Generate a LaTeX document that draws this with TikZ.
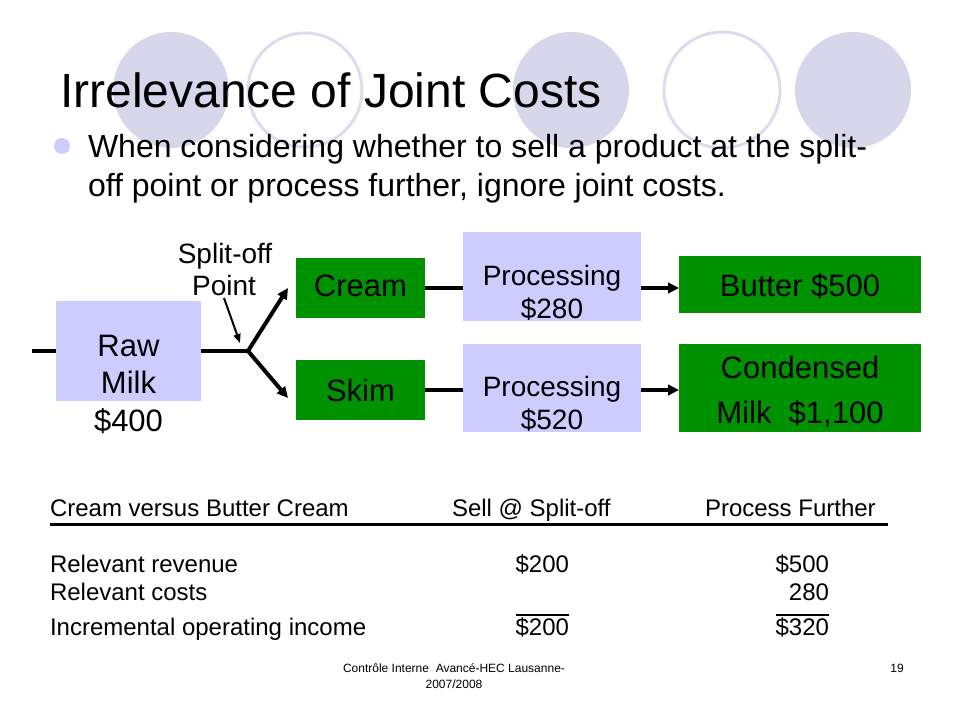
\documentclass[tikz,border=0pt]{standalone}
\usepackage{fontspec}
\setmainfont{Liberation Sans}
\usetikzlibrary{arrows.meta}
\definecolor{lav}{RGB}{204,204,255}
\definecolor{circfill}{RGB}{215,215,235}
\definecolor{circline}{RGB}{220,220,238}
\definecolor{grn}{RGB}{0,146,0}
\newcommand{\myfs}[1]{\fontsize{#1}{#1}\selectfont}
\begin{document}
\begin{tikzpicture}[x=1pt,y=-1pt,
  txt/.style={inner sep=0pt, outer sep=0pt},
  lavbox/.style={draw=none, fill=lav, inner sep=0pt, outer sep=0pt},
  grnbox/.style={draw=none, fill=grn, inner sep=0pt, outer sep=0pt},
  conn/.style={line width=4pt},
  arr/.style={line width=4pt, -{Triangle[length=11pt,width=10.5pt]}},
  thinarr/.style={line width=2pt, -{Triangle[length=9pt,width=7pt]}},
  decoring/.style={draw=circline, line width=3pt, fill=none},
]
\useasboundingbox[fill=white] (0,0) rectangle (960,720);

% decorative circles
\fill[circfill] (171,90) circle (58pt);
\draw[decoring] (305,90) circle (57pt);
\fill[circfill] (571,90) circle (58pt);
\draw[decoring] (722,90) circle (58pt);
\fill[circfill] (853,90) circle (58pt);

% title and bullet
\node[txt, anchor=base west, font=\myfs{48}] (title) at (60,107) {Irrelevance of Joint Costs};
\fill[lav] (62,146) circle (8pt);
\node[txt, anchor=base west, font=\myfs{32}] (bul1) at (88,157) {When considering whether to sell a product at the split-};
\node[txt, anchor=base west, font=\myfs{32}] (bul2) at (88,196) {off point or process further, ignore joint costs.};

% boxes
\node[lavbox, minimum width=145pt, minimum height=100pt] (raw) at (128.5,351) {};
\node[grnbox, minimum width=129pt, minimum height=60pt] (cream) at (360.5,288) {};
\node[grnbox, minimum width=129pt, minimum height=60pt] (skim) at (360.5,390) {};
\node[lavbox, minimum width=178pt, minimum height=89pt] (proc1) at (552,276.5) {};
\node[lavbox, minimum width=178pt, minimum height=88pt] (proc2) at (552,388) {};
\node[grnbox, minimum width=242pt, minimum height=57pt] (butter) at (800,284.5) {};
\node[grnbox, minimum width=242pt, minimum height=88pt] (cond) at (800,388) {};

% box texts
\node[txt, anchor=base, font=\myfs{31}] (rawA) at (128.5,356) {Raw};
\node[txt, anchor=base, font=\myfs{31}] (rawB) at (128.5,393) {Milk};
\node[txt, anchor=base, font=\myfs{31}] (rawC) at (128.5,431) {\$400};
\node[txt, anchor=base, font=\myfs{31}] (creamT) at (360.5,296) {Cream};
\node[txt, anchor=base, font=\myfs{31}] (skimT) at (360.5,401) {Skim};
\node[txt, anchor=base, font=\myfs{28}] (p1A) at (552,285) {Processing};
\node[txt, anchor=base, font=\myfs{28}] (p1B) at (552,318) {\$280};
\node[txt, anchor=base, font=\myfs{28}] (p2A) at (552,396) {Processing};
\node[txt, anchor=base, font=\myfs{28}] (p2B) at (552,429) {\$520};
\node[txt, anchor=base, font=\myfs{31}] (butterT) at (800,296) {Butter \$500};
\node[txt, anchor=base, font=\myfs{31}] (condA) at (800,378) {Condensed};
\node[txt, anchor=base, font=\myfs{31}] (condB) at (800,423) {Milk\ \ \$1,100};

% split-off label
\node[txt, anchor=base, font=\myfs{28}] (splA) at (225,263) {Split-off};
\node[txt, anchor=base, font=\myfs{28}] (splB) at (224,295) {Point};

% connectors
\coordinate (stub) at (32,351);
\coordinate (split) at (248,351);
\coordinate (ptrS) at (224,298);
\coordinate (ptrE) at (240,343);
\draw[conn] (stub) -- (raw.west);
\draw[conn] (raw.east) -- (split);
\draw[arr] (split) -- ([xshift=-8pt]cream.west);
\draw[arr] (split) -- ([xshift=-8pt,yshift=-8pt]skim.west);
\draw[thinarr] (ptrS) -- (ptrE);
\draw[conn] (cream.east) -- (cream.east -| proc1.west);
\draw[arr] (proc1.east |- cream.east) -- (butter.west |- cream.east);
\draw[conn] (skim.east) -- (skim.east -| proc2.west);
\draw[arr] (proc2.east |- skim.east) -- (cond.west |- skim.east);

% table
\node[txt, anchor=base west, font=\myfs{24}] (h1) at (50,516) {Cream versus Butter Cream};
\node[txt, anchor=base west, font=\myfs{24}] (h2) at (452,516) {Sell @ Split-off};
\node[txt, anchor=base west, font=\myfs{24}] (h3) at (705,516) {Process Further};
\draw[line width=3pt] (50,524) -- (888,524);
\node[txt, anchor=base west, font=\myfs{24}] (r1) at (50,572) {Relevant revenue};
\node[txt, anchor=base east, font=\myfs{24}] (r1a) at (569,572) {\$200};
\node[txt, anchor=base east, font=\myfs{24}] (r1b) at (829,572) {\$500};
\node[txt, anchor=base west, font=\myfs{24}] (r2) at (50,600) {Relevant costs};
\node[txt, anchor=base east, font=\myfs{24}] (r2b) at (829,600) {280};
\node[txt, anchor=base west, font=\myfs{24}] (r3) at (50,635) {Incremental operating income};
\node[txt, anchor=base east, font=\myfs{24}] (r3a) at (569,635) {\$200};
\node[txt, anchor=base east, font=\myfs{24}] (r3b) at (829,635) {\$320};
\draw[line width=1.5pt] ([yshift=2pt]r3a.north west) -- ([yshift=2pt]r3a.north east);
\draw[line width=1.5pt] ([yshift=2pt]r3b.north west) -- ([yshift=2pt]r3b.north east);

% footer
\node[txt, anchor=base, font=\myfs{12}] (f1) at (454,672) {Contrôle Interne\ \ Avancé-HEC Lausanne-};
\node[txt, anchor=base, font=\myfs{12}] (f2) at (454,688) {2007/2008};
\node[txt, anchor=base, font=\myfs{12}] (f3) at (897,672) {19};
\end{tikzpicture}
\end{document}
